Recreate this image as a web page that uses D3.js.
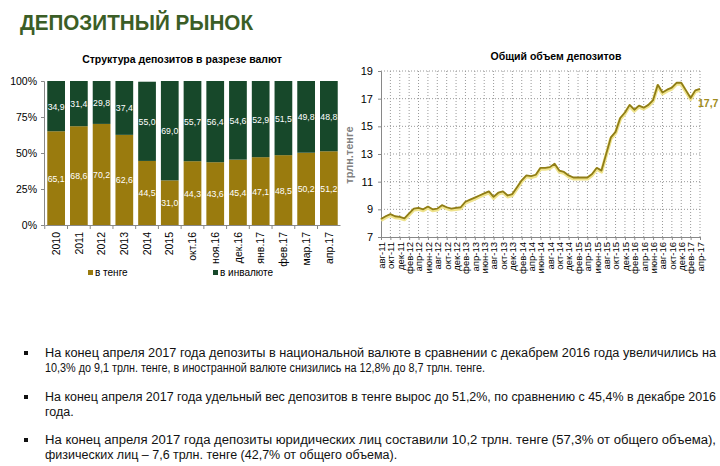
<!DOCTYPE html>
<html>
<head>
<meta charset="utf-8">
<script src="https://cdn.jsdelivr.net/npm/d3@7"></script>
<style>
  body { margin: 0; background: #fff; }
  svg { display: block; font-family: "Liberation Sans", Arial, sans-serif; }
</style>
</head>
<body>
<div id="chart"></div>
<script>
// left chart: currency structure, %
const barCats = ["2010", "2011", "2012", "2013", "2014", "2015", "окт.16", "ноя.16", "дек.16", "янв.17", "фев.17", "мар.17", "апр.17"];
const tengeShare = [65.1, 68.6, 70.2, 62.6, 44.5, 31.0, 44.3, 43.6, 45.4, 47.1, 48.5, 50.2, 51.2];
const fxShare = [34.9, 31.4, 29.8, 37.4, 55.0, 69.0, 55.7, 56.4, 54.6, 52.9, 51.5, 49.8, 48.8];
const pctTicks = [0, 25, 50, 75, 100];

// right chart: total deposits, trln tenge, monthly авг-11 .. апр-17
const monthNames = ["янв", "фев", "мар", "апр", "май", "июн", "июл", "авг", "сен", "окт", "ноя", "дек"];
const months = [];
for (let y = 11; y <= 17; y++) {
    for (let m = 0; m < 12; m++) {
        if ((y === 11 && m < 7) || (y === 17 && m > 3)) continue;
        months.push(monthNames[m] + "-" + y);
    }
}
const deposits = [
    8.3, 8.5, 8.65, 8.5, 8.45, 8.35, 8.7, 9.05, 9.1, 9.0, 9.2, 9.0,
    9.05, 9.3, 9.15, 9.05, 9.1, 9.15, 9.55, 9.7, 9.85, 10.0, 10.15, 10.3,
    9.9, 10.2, 10.3, 10.0, 10.1, 10.6, 11.1, 11.45, 11.4, 11.5, 12.0, 12.0,
    12.05, 12.3, 11.8, 11.7, 11.45, 11.3, 11.3, 11.3, 11.3, 11.55, 12.0, 11.8,
    13.0, 14.2, 14.6, 15.6, 16.0, 16.55, 16.2, 16.5, 16.35, 16.55, 16.9, 18.0,
    17.45, 17.65, 17.8, 18.15, 18.15, 17.6, 17.05, 17.6, 17.7
];
const depTicks = [7, 9, 11, 13, 15, 17, 19];

const bullets = [
    ["На конец апреля 2017 года депозиты в национальной валюте в сравнении с декабрем 2016 года увеличились на",
     "10,3% до 9,1 трлн. тенге, в иностранной валюте снизились на 12,8% до 8,7 трлн. тенге."],
    ["На конец апреля 2017 года удельный вес депозитов в тенге вырос до 51,2%, по сравнению с 45,4% в декабре 2016",
     "года."],
    ["На конец апреля 2017 года депозиты юридических лиц составили 10,2 трлн. тенге (57,3% от общего объема),",
     "физических лиц – 7,6 трлн. тенге (42,7% от общего объема)."]
];

const W = 720, H = 466;
const tengeColor = "#9a7b0e", fxColor = "#17482a";
const lineColor = "#8f7d17";

const svg = d3.select("#chart").append("svg")
    .attr("width", W)
    .attr("height", H);

// heading
svg.append("text")
    .attr("x", 20).attr("y", 30)
    .attr("font-size", 22).attr("font-weight", "bold")
    .attr("fill", "#3b5e26")
    .attr("textLength", 233).attr("lengthAdjust", "spacingAndGlyphs")
    .text("ДЕПОЗИТНЫЙ РЫНОК");

// ---------- left: stacked bars ----------
const x1 = d3.scaleBand().domain(barCats).range([45, 340]).paddingInner(0.22).paddingOuter(0.1);
const y1 = d3.scaleLinear().domain([0, 100]).range([225, 81]);

svg.append("text")
    .attr("x", 182).attr("y", 63)
    .attr("text-anchor", "middle")
    .attr("font-size", 10.5).attr("font-weight", "bold")
    .text("Структура депозитов в разрезе валют");

const bars = svg.append("g");
barCats.forEach((c, i) => {
    let t = tengeShare[i], f = fxShare[i];
    bars.append("rect")
        .attr("x", x1(c)).attr("width", x1.bandwidth())
        .attr("y", y1(t)).attr("height", y1(0) - y1(t))
        .attr("fill", tengeColor);
    bars.append("rect")
        .attr("x", x1(c)).attr("width", x1.bandwidth())
        .attr("y", y1(t + f)).attr("height", y1(t) - y1(t + f))
        .attr("fill", fxColor);
    bars.append("text")
        .attr("x", x1(c) + x1.bandwidth() / 2).attr("y", y1(t / 2) + 3.5)
        .attr("text-anchor", "middle").attr("font-size", 9).attr("fill", "#fff")
        .attr("textLength", 17).attr("lengthAdjust", "spacingAndGlyphs")
        .text(t.toFixed(1).replace(".", ","));
    bars.append("text")
        .attr("x", x1(c) + x1.bandwidth() / 2).attr("y", y1(t + f / 2) + 3.5)
        .attr("text-anchor", "middle").attr("font-size", 9).attr("fill", "#fff")
        .attr("textLength", 17).attr("lengthAdjust", "spacingAndGlyphs")
        .text(f.toFixed(1).replace(".", ","));
});

const yAxis1 = svg.append("g")
    .attr("transform", "translate(44,0)")
    .call(d3.axisLeft(y1).tickValues(pctTicks).tickSize(3).tickFormat(d => d + "%"));
yAxis1.selectAll("text").attr("font-size", 10.5).attr("fill", "#000").attr("x", -7);
yAxis1.selectAll("line, path").attr("stroke", "#888");

const xAxis1 = svg.append("g")
    .attr("transform", "translate(0,225)")
    .call(d3.axisBottom(x1).tickSize(0));
xAxis1.select("path").attr("stroke", "#888");
xAxis1.selectAll("text")
    .attr("font-size", 10.5).attr("fill", "#000")
    .attr("transform", "rotate(-90)")
    .attr("text-anchor", "end")
    .attr("x", -7).attr("y", 0).attr("dy", "0.35em");
// separators between categories
svg.append("g").selectAll("line")
    .data(barCats)
    .join("line")
    .attr("x1", d => x1(d) - x1.step() * x1.paddingInner() / 2)
    .attr("x2", d => x1(d) - x1.step() * x1.paddingInner() / 2)
    .attr("y1", 225).attr("y2", 229)
    .attr("stroke", "#888");

// legend
const legend = [["в тенге", tengeColor, 88], ["в инвалюте", fxColor, 213]];
legend.forEach(l => {
    svg.append("rect").attr("x", l[2]).attr("y", 270).attr("width", 5).attr("height", 5).attr("fill", l[1]);
    svg.append("text").attr("x", l[2] + 7).attr("y", 276).attr("font-size", 10).text(l[0]);
});

// ---------- right: line chart ----------
const x2 = d3.scalePoint().domain(months).range([381, 700]);
const y2 = d3.scaleLinear().domain([7, 19]).range([237, 71]);

svg.append("text")
    .attr("x", 556).attr("y", 60)
    .attr("text-anchor", "middle")
    .attr("font-size", 10.5).attr("font-weight", "bold")
    .text("Общий объем депозитов");

const tickMonths = months.filter((m, i) => i % 2 === 0);

// grid
svg.append("g").selectAll("line")
    .data(depTicks.slice(1))
    .join("line")
    .attr("x1", 381).attr("x2", 702)
    .attr("y1", d => y2(d)).attr("y2", d => y2(d))
    .attr("stroke", "#999").attr("stroke-dasharray", "1,2");
svg.append("g").selectAll("line")
    .data(tickMonths.slice(1))
    .join("line")
    .attr("x1", d => x2(d)).attr("x2", d => x2(d))
    .attr("y1", y2(19)).attr("y2", y2(7))
    .attr("stroke", "#999").attr("stroke-dasharray", "1,2");

const yAxis2 = svg.append("g")
    .attr("transform", "translate(381,0)")
    .call(d3.axisLeft(y2).tickValues(depTicks).tickSize(3));
yAxis2.selectAll("text").attr("font-size", 11).attr("fill", "#000").attr("x", -8);
yAxis2.selectAll("line, path").attr("stroke", "#888");

const xAxis2 = svg.append("g")
    .attr("transform", "translate(0,237)")
    .call(d3.axisBottom(x2).tickValues(tickMonths).tickSize(3));
xAxis2.selectAll("line, path").attr("stroke", "#888");
xAxis2.selectAll("text")
    .attr("font-size", 9.5).attr("fill", "#000")
    .attr("transform", "rotate(-90)")
    .attr("text-anchor", "end")
    .attr("x", -5).attr("y", 0).attr("dy", "0.35em");

svg.append("text")
    .attr("transform", "translate(353,155) rotate(-90)")
    .attr("text-anchor", "middle")
    .attr("font-size", 11).attr("font-weight", "bold")
    .attr("fill", "#808080")
    .text("трлн.тенге");

const line = d3.line()
    .x((d, i) => x2(months[i]))
    .y(d => y2(d));

svg.append("path")
    .datum(deposits)
    .attr("d", line)
    .attr("transform", "translate(0,1.2)")
    .attr("fill", "none")
    .attr("stroke", "#efe38c")
    .attr("stroke-width", 3.5)
    .attr("stroke-linejoin", "round");
svg.append("path")
    .datum(deposits)
    .attr("d", line)
    .attr("fill", "none")
    .attr("stroke", lineColor)
    .attr("stroke-width", 1.8)
    .attr("stroke-linejoin", "round");

let last = deposits[deposits.length - 1];
svg.append("text")
    .attr("x", x2(months[months.length - 1]) - 2)
    .attr("y", y2(last) + 18)
    .attr("font-size", 10.5).attr("font-weight", "bold")
    .attr("fill", "#a08c20")
    .text(last.toFixed(1).replace(".", ","));

// ---------- bullet text ----------
// null = natural width, number = fit to that width
const lineWidths = [[671, 440], [671, null], [671, null]];
const lineY = [[357, 372], [401, 416], [444, 459]];
bullets.forEach((b, i) => {
    svg.append("rect")
        .attr("x", 24).attr("y", lineY[i][0] - 6).attr("width", 4).attr("height", 4)
        .attr("fill", "#111");
    b.forEach((t, j) => {
        let txt = svg.append("text")
            .attr("x", 45).attr("y", lineY[i][j])
            .attr("font-size", 12.5).attr("fill", "#111")
            .text(t);
        if (lineWidths[i][j]) {
            txt.attr("textLength", lineWidths[i][j])
                .attr("lengthAdjust", "spacingAndGlyphs");
        }
    });
});
</script>
</body>
</html>
